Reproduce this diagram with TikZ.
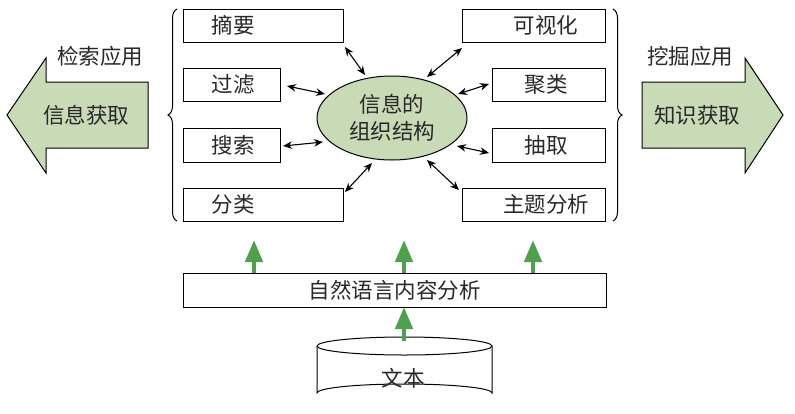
\documentclass[tikz,border=0pt]{standalone}
\usepackage{fontspec}
\setmainfont{Noto Sans CJK SC}
\usetikzlibrary{shapes.geometric,shapes.arrows,arrows.meta,decorations.pathreplacing,calc}
\definecolor{lgreen}{RGB}{200,218,182}
\definecolor{dgreen}{RGB}{78,160,78}
\definecolor{txt}{RGB}{40,40,40}
\tikzset{
  box/.style={draw,line width=1pt,minimum height=33pt,inner sep=0pt},
  lbl/.style={font=\fontsize{21.5}{24}\selectfont,text=txt},
  dbl/.style={{Stealth[length=9pt,width=7.5pt]}-{Stealth[length=9pt,width=7.5pt]},line width=1.1pt},
  garrow/.style={-{Triangle[length=22pt,width=17pt]},line width=4.5pt,draw=dgreen},
  brace/.style={decorate,decoration={brace,amplitude=9pt},line width=1pt}
}
\begin{document}
\begin{tikzpicture}[x=1pt,y=-1pt]
\useasboundingbox (0,0) rectangle (795,413);
% left boxes
\draw[line width=1pt] (183,9) rectangle (343,42);
\node[lbl,anchor=west] (zy) at (208,25) {摘要};
\draw[line width=1pt] (183,68) rectangle (280,101);
\node[lbl,anchor=west] (gl) at (208,84.5) {过滤};
\draw[line width=1pt] (183,128) rectangle (280,162);
\node[lbl,anchor=west] (ss) at (208,145) {搜索};
\draw[line width=1pt] (183,188) rectangle (343,221);
\node[lbl,anchor=west] (fl) at (208,204.5) {分类};
% right boxes
\draw[line width=1pt] (462,9) rectangle (605,42);
\node[lbl] (ksh) at (546,25) {可视化};
\draw[line width=1pt] (492,68) rectangle (605,101);
\node[lbl] (jl) at (546,84.5) {聚类};
\draw[line width=1pt] (492,128) rectangle (605,162);
\node[lbl] (cq) at (546,145) {抽取};
\draw[line width=1pt] (462,188) rectangle (605,221);
\node[lbl] (ztfx) at (546,204.5) {主题分析};
% braces
\draw[brace] (177,221) -- (177,9);
\draw[brace] (613,9) -- (613,221);
% ellipse
\node[ellipse,draw,line width=1pt,fill=lgreen,minimum width=150pt,minimum height=84pt,inner sep=0pt] (org) at (392,118) {};
\node[lbl,align=center,font=\fontsize{21.5}{27}\selectfont] (orgt) at (392,118) {信息的\\组织结构};
% double arrows
\coordinate (a1) at (345,47); \coordinate (b1) at (365,75);
\coordinate (a2) at (287,86); \coordinate (b2) at (325,94);
\coordinate (a3) at (283,146); \coordinate (b3) at (323,142);
\coordinate (a4) at (345,192); \coordinate (b4) at (372,163);
\coordinate (a5) at (462,48); \coordinate (b5) at (427,77);
\coordinate (a6) at (489,84); \coordinate (b6) at (458,94);
\coordinate (a7) at (489,153); \coordinate (b7) at (457,146);
\coordinate (a8) at (459,190); \coordinate (b8) at (427,160);
\foreach \i in {1,...,8} {\draw[dbl] (a\i) -- (b\i);}
% big arrows
\draw[line width=1pt,fill=lgreen] (148,82) -- (46,82) -- (46,58) -- (7,115) -- (46,173) -- (46,148) -- (148,148) -- cycle;
\node[lbl] (xxhq) at (86,115) {信息获取};
\node[lbl] (jsyy) at (100,56) {检索应用};
\draw[line width=1pt,fill=lgreen] (642,82) -- (745,82) -- (745,58) -- (783,115) -- (745,173) -- (745,148) -- (642,148) -- cycle;
\node[lbl] (zshq) at (697,115) {知识获取};
\node[lbl] (wjyy) at (690,56) {挖掘应用};
% NLP box
\node[draw,line width=1pt,minimum width=423pt,minimum height=34pt,inner sep=0pt,lbl] (nlp) at (394.5,290) {自然语言内容分析};
% cylinder
\draw[line width=1pt,fill=white] (317,346) -- (317,393) arc[start angle=180,end angle=360,x radius=87.5,y radius=9] -- (492,346);
\draw[line width=1pt,fill=white] (404.5,346) ellipse[x radius=87.5,y radius=9];
\node[lbl] (wb) at (403,378) {文本};
\coordinate (cyltop) at (404,341);
% green arrows
\coordinate (g1) at (254,273); \coordinate (g1t) at (254,240);
\coordinate (g2) at (404,273); \coordinate (g2t) at (404,240);
\coordinate (g3) at (533,273); \coordinate (g3t) at (533,240);
\draw[garrow] (g1) -- (g1t);
\draw[garrow] (g2) -- (g2t);
\draw[garrow] (g3) -- (g3t);
\draw[garrow] (cyltop) -- (404,307);
\end{tikzpicture}
\end{document}
